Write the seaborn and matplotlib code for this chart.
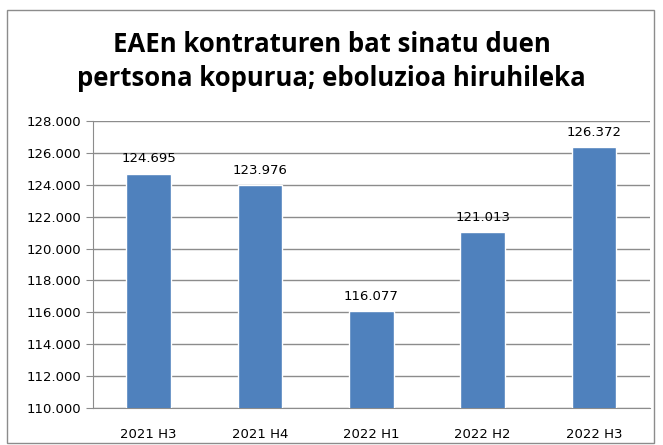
import matplotlib
matplotlib.use("Agg")
import matplotlib.pyplot as plt
import seaborn as sns
import pandas as pd
from matplotlib.patches import Rectangle

periods = ["2021 H3", "2021 H4", "2022 H1", "2022 H2", "2022 H3"]
persons = [124695, 123976, 116077, 121013, 126372]
y_ticks = list(range(110000, 128001, 2000))

def dotted(v):
    return f"{v:,.0f}".replace(",", ".")

sns.set_style("white")
plt.rcParams['font.family'] = ['DejaVu Sans']
plt.rcParams['text.color'] = 'black'
plt.rcParams['xtick.color'] = 'black'
plt.rcParams['ytick.color'] = 'black'

df = pd.DataFrame({"period": periods, "persons": persons})

fig = plt.figure(figsize=(6.63, 4.45), dpi=100)
ax = fig.add_axes([0.140, 0.083, 0.840, 0.645])

sns.barplot(data=df, x="period", y="persons", color="#4F81BD", saturation=1,
            width=0.4, ax=ax, zorder=3)

ax.set_ylim(110000, 128000)
ax.set_xlim(-0.5, 4.5)
ax.set_yticks(y_ticks)
ax.set_yticklabels([dotted(t) for t in y_ticks], fontsize=9.5)
ax.yaxis.grid(True, color="#8c8c8c", linewidth=1, zorder=0)
ax.set_xlabel("")
ax.set_ylabel("")

# x ticks sit at category boundaries
ax.set_xticks(range(len(periods)))
ax.set_xticklabels(periods, fontsize=9.5)
ax.tick_params(axis="x", length=0, pad=14)
ax.set_xticks([i - 0.5 for i in range(len(periods) + 1)], minor=True)
ax.tick_params(axis="x", which="minor", length=5, color="#8c8c8c", direction="out")
ax.tick_params(axis="y", length=5, color="#8c8c8c", labelcolor="black", direction="out", left=True)

for side in ["top", "right"]:
    ax.spines[side].set_visible(False)
for side in ["left", "bottom"]:
    ax.spines[side].set_color("#8c8c8c")

for i, v in enumerate(persons):
    ax.annotate(dotted(v), (i, v), xytext=(0, 6), textcoords="offset points",
                ha="center", va="bottom", fontsize=9.5, color="black")

fig.text(0.5, 0.862, "EAEn kontraturen bat sinatu duen\npertsona kopurua; eboluzioa hiruhileka",
         ha="center", va="center", fontsize=18.5, fontweight="bold", color="black",
         family=["Open Sans", "DejaVu Sans"], linespacing=1.3)

fig.patches.append(Rectangle((0.011, 0.005), 0.976, 0.973, transform=fig.transFigure,
                             fill=False, edgecolor="#8c8c8c", linewidth=1))

fig.savefig("out.png", dpi=100)
